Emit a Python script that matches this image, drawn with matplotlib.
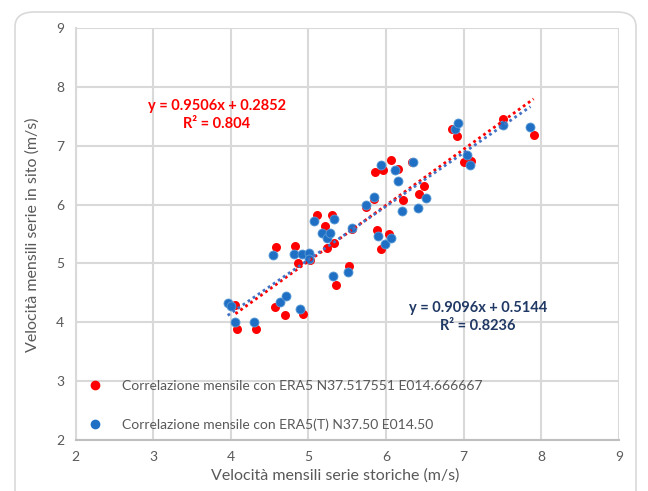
import numpy as np
import matplotlib
matplotlib.use("Agg")
import matplotlib.pyplot as plt
from matplotlib.patches import FancyBboxPatch
from matplotlib.lines import Line2D

plt.rcParams['font.family'] = ['Lato', 'DejaVu Sans']

# ---- data ----
red_x = [4.06, 4.08, 4.33, 4.57, 4.58, 4.70, 4.83, 4.87, 4.93, 5.02, 5.11, 5.21, 5.24,
         5.31, 5.33, 5.35, 5.52, 5.56, 5.74, 5.85, 5.86, 5.88, 5.93, 5.96, 6.04, 6.06,
         6.15, 6.22, 6.34, 6.43, 6.49, 6.85, 6.91, 7.01, 7.10, 7.50, 7.90]
red_y = [4.29, 3.89, 3.89, 4.26, 5.28, 4.13, 5.29, 5.01, 4.14, 5.06, 5.83, 5.64, 5.26,
         5.82, 5.34, 4.64, 4.95, 5.59, 5.96, 6.10, 6.56, 5.56, 5.24, 6.59, 5.50, 6.75,
         6.61, 6.08, 6.72, 6.18, 6.31, 7.28, 7.17, 6.72, 6.74, 7.46, 7.19]

blue_x = [3.96, 4.00, 4.05, 4.30, 4.55, 4.64, 4.71, 4.82, 4.89, 4.92, 5.01, 5.01, 5.07,
          5.17, 5.24, 5.28, 5.33, 5.32, 5.51, 5.56, 5.74, 5.85, 5.89, 5.93, 5.98, 6.06,
          6.11, 6.15, 6.20, 6.35, 6.41, 6.52, 6.89, 6.93, 7.04, 7.08, 7.51, 7.86]
blue_y = [4.32, 4.27, 4.00, 4.00, 5.14, 4.34, 4.45, 5.16, 4.22, 5.16, 5.18, 5.08, 5.72,
          5.51, 5.43, 5.51, 5.76, 4.79, 4.85, 5.61, 5.99, 6.13, 5.47, 6.67, 5.33, 5.44,
          6.59, 6.40, 5.89, 6.72, 5.94, 6.12, 7.28, 7.39, 6.84, 6.67, 7.35, 7.32]

red_fit = [0.9506, 0.2852]
blue_fit = [0.9096, 0.5144]
red_label = "Correlazione mensile con ERA5 N37.517551 E014.666667"
blue_label = "Correlazione mensile con ERA5(T) N37.50 E014.50"
red_eq = "y = 0.9506x + 0.2852\nR² = 0.804"
blue_eq = "y = 0.9096x + 0.5144\nR² = 0.8236"
x_label = "Velocità mensili serie storiche (m/s)"
y_label = "Velocità mensili serie in sito (m/s)"
ticks = [2, 3, 4, 5, 6, 7, 8, 9]

RED = "#FF0000"
BLUE = "#1F6FC5"
NAVY = "#1F3864"
GRAY = "#595959"
GRID = "#D9D9D9"

W, H = 648, 491
fig = plt.figure(figsize=(W / 100, H / 100), dpi=100)

# rounded chart border
border = FancyBboxPatch((15 / W, -0.05), 621 / W, 1 - 12 / H + 0.05,
                        boxstyle="round,pad=0,rounding_size=0.03",
                        transform=fig.transFigure, fill=False,
                        edgecolor=GRID, linewidth=1.2)
fig.patches.append(border)

L, R, T, B = 75.5, 619, 28, 440
ax = fig.add_axes([L / W, 1 - B / H, (R - L) / W, (B - T) / H])
ax.set_xlim(2, 9)
ax.set_ylim(2, 9)
ax.set_xticks(ticks)
ax.set_yticks(ticks)
ax.grid(True, color=GRID, linewidth=1.5)
ax.set_axisbelow(True)
for s in ['top', 'right']:
    ax.spines[s].set_visible(False)
for s in ['left', 'bottom']:
    ax.spines[s].set_color(GRID)
    ax.spines[s].set_linewidth(1.5)
ax.spines['bottom'].set_color("#BFBFBF")
ax.tick_params(length=0, labelsize=10, labelcolor=GRAY, pad=8)

ax.scatter(red_x, red_y, s=42, color=RED, zorder=3, linewidths=0)
ax.scatter(blue_x, blue_y, s=42, color=BLUE, zorder=4, linewidths=0.6,
           edgecolors="#5B9BD5")

xr = np.array([min(red_x), max(red_x)])
ax.plot(xr, np.polyval(red_fit, xr), color=RED, linestyle=(0, (1, 1.2)),
        linewidth=2, zorder=5)
xb = np.array([min(blue_x), max(blue_x)])
ax.plot(xb, np.polyval(blue_fit, xb), color="#4472C4", linestyle=(0, (1, 1.2)),
        linewidth=2, zorder=5)

ax.text(217 / W, 1 - 115 / H, red_eq, transform=fig.transFigure, ha='center',
        va='center', color=RED, fontsize=10.5, fontweight='bold', linespacing=1.35)
ax.text(478 / W, 1 - 317 / H, blue_eq, transform=fig.transFigure, ha='center',
        va='center', color=NAVY, fontsize=10.5, fontweight='bold', linespacing=1.35)

fig.text(335 / W, 1 - 476 / H, x_label, ha='center', va='center',
         color=GRAY, fontsize=11.5)
fig.text(33 / W, 1 - 235 / H, y_label, ha='center', va='center',
         rotation=90, color=GRAY, fontsize=11.5)

handles = [Line2D([], [], linestyle='none', marker='o', markersize=7,
                  color=RED, markeredgewidth=0),
           Line2D([], [], linestyle='none', marker='o', markersize=7,
                  color=BLUE, markeredgewidth=0)]
leg = fig.legend(handles, [red_label, blue_label], loc='upper left',
                 bbox_to_anchor=(82 / W, 1 - 374 / H), frameon=False,
                 fontsize=10, labelcolor=GRAY, labelspacing=1.95,
                 handletextpad=1.5, handlelength=1.0, borderaxespad=0)

fig.savefig("out.png", dpi=100)
